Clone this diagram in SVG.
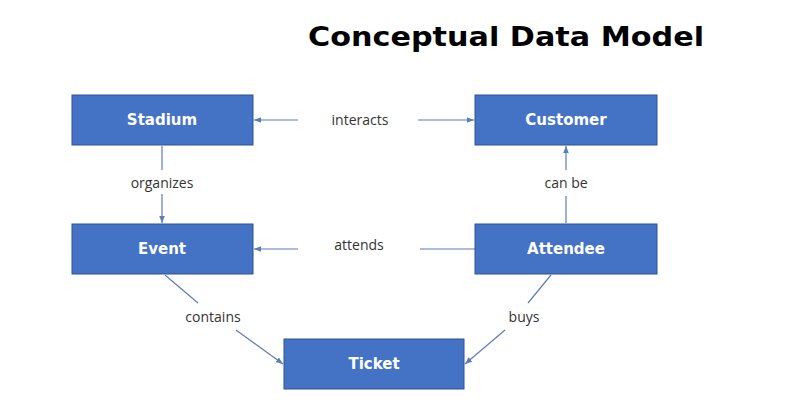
<svg xmlns="http://www.w3.org/2000/svg" width="800" height="400" viewBox="0 0 800 400">
<defs>
<marker id="ah" viewBox="0 0 10 10" refX="10" refY="5" markerWidth="6" markerHeight="6" orient="auto-start-reverse"><path d="M0,1 L10,5 L0,9 z" fill="#5B7DB8"/></marker>
<style>
.box{fill:#4472C4;stroke:#2F528F;stroke-width:1}
.nt{font-family:"DejaVu Sans",sans-serif;font-weight:bold;font-size:15px;fill:#fff;text-anchor:middle}
.lb{font-family:"Open Sans","Liberation Sans",sans-serif;font-size:14px;fill:#333;text-anchor:middle}
.ln{stroke:#5B7DB8;stroke-width:1.2;fill:none}
</style>
</defs>
<rect width="800" height="400" fill="#fff"/>
<text x="506" y="46" font-family="DejaVu Sans,sans-serif" font-weight="bold" font-size="27" text-anchor="middle" textLength="396" lengthAdjust="spacingAndGlyphs" fill="#000">Conceptual Data Model</text>
<g id="connectors">
<line class="ln" x1="298" y1="120" x2="254" y2="120" marker-end="url(#ah)"/>
<line class="ln" x1="418" y1="120" x2="474" y2="120" marker-end="url(#ah)"/>
<text class="lb" x="360" y="125">interacts</text>
<line class="ln" x1="162" y1="146" x2="162" y2="170"/>
<line class="ln" x1="162" y1="194" x2="162" y2="223" marker-end="url(#ah)"/>
<text class="lb" x="162" y="188">organizes</text>
<line class="ln" x1="420" y1="249" x2="298" y2="249" stroke-opacity="0"/>
<line class="ln" x1="475" y1="249" x2="420" y2="249"/>
<line class="ln" x1="298" y1="249" x2="254" y2="249" marker-end="url(#ah)"/>
<text class="lb" x="359" y="250">attends</text>
<line class="ln" x1="566" y1="223" x2="566" y2="196"/>
<line class="ln" x1="566" y1="170" x2="566" y2="146" marker-end="url(#ah)"/>
<text class="lb" x="566" y="188">can be</text>
<line class="ln" x1="165" y1="275" x2="198" y2="303"/>
<line class="ln" x1="236" y1="330" x2="283" y2="364" marker-end="url(#ah)"/>
<text class="lb" x="213" y="322">contains</text>
<line class="ln" x1="551" y1="275" x2="528" y2="303"/>
<line class="ln" x1="505" y1="330" x2="465" y2="364" marker-end="url(#ah)"/>
<text class="lb" x="524" y="322">buys</text>
</g>
<g id="stadium"><rect class="box" x="72" y="95" width="181" height="50"/><text class="nt" x="162" y="125">Stadium</text></g>
<g id="customer"><rect class="box" x="475" y="95" width="182" height="50"/><text class="nt" x="566" y="125">Customer</text></g>
<g id="event"><rect class="box" x="72" y="224" width="181" height="50"/><text class="nt" x="162" y="254">Event</text></g>
<g id="attendee"><rect class="box" x="475" y="224" width="182" height="50"/><text class="nt" x="566" y="254">Attendee</text></g>
<g id="ticket"><rect class="box" x="284" y="339" width="180" height="50"/><text class="nt" x="374" y="369">Ticket</text></g>
</svg>
